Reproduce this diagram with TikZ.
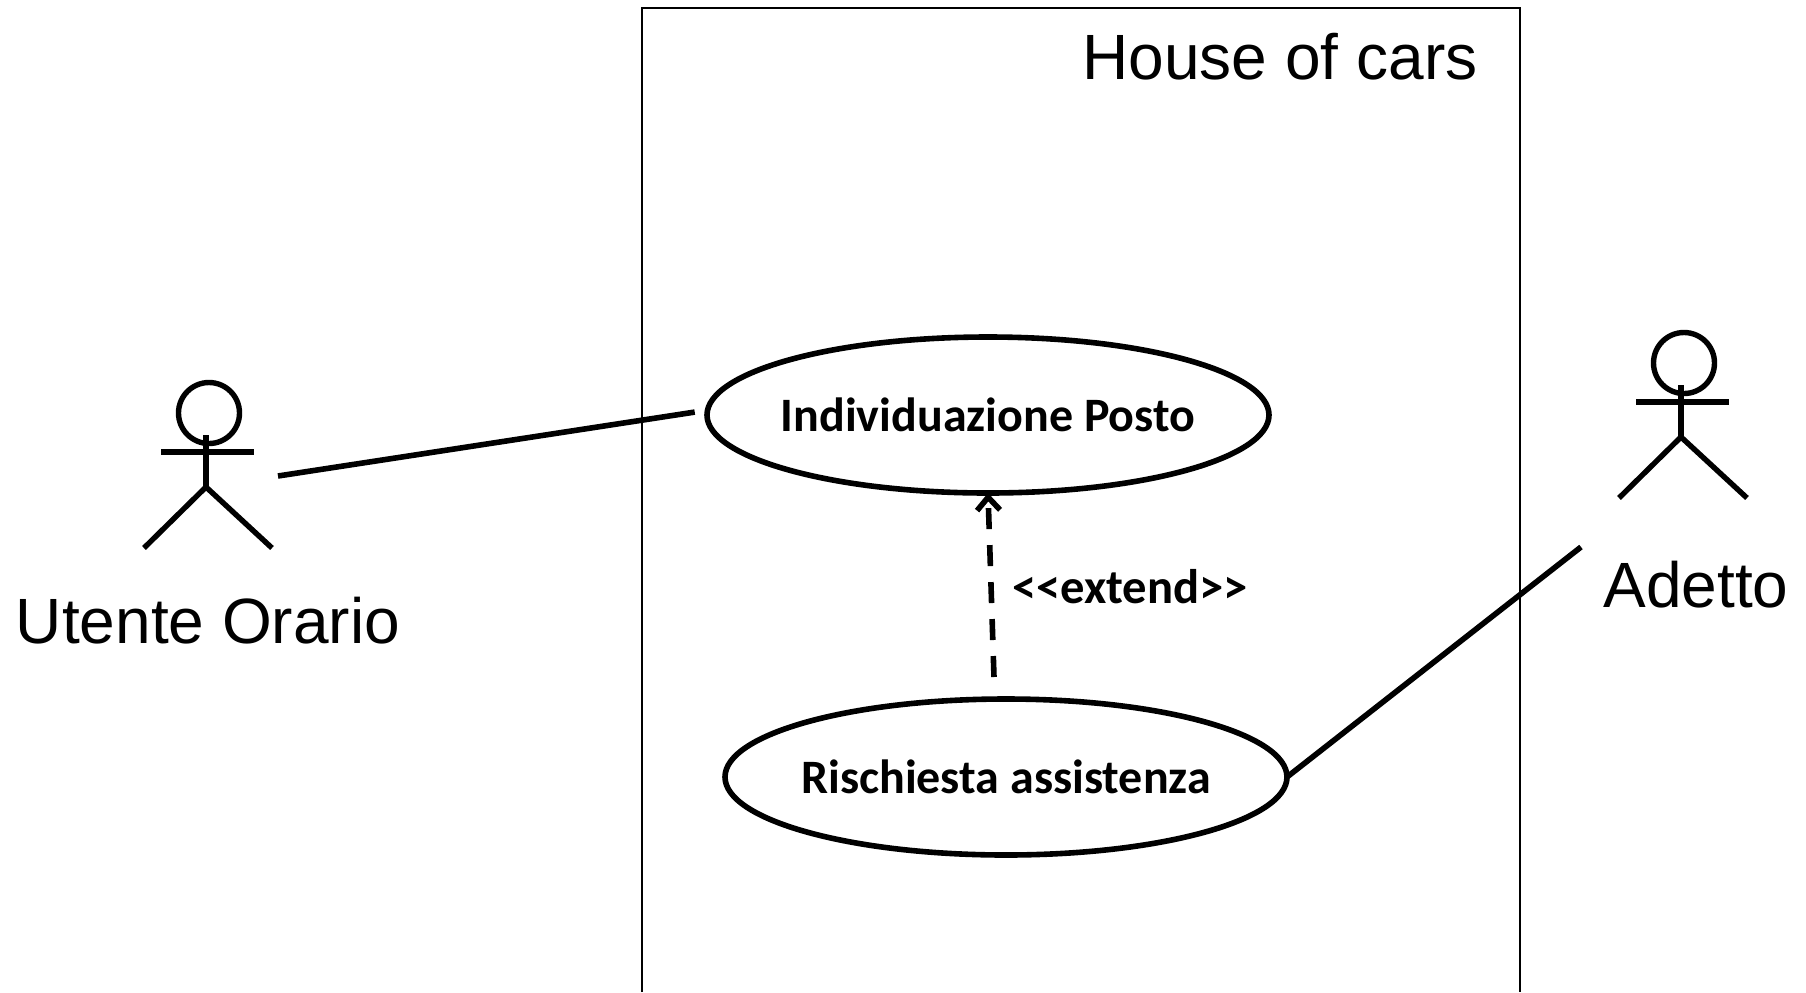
\documentclass[tikz,border=0pt]{standalone}
\usepackage{fontspec}
\setmainfont{Liberation Sans}
\newfontfamily\usecasefont{Carlito}
\usetikzlibrary{shapes.geometric,arrows.meta}

\tikzset{
  usecase/.style={draw, ellipse, line width=2.8pt, inner xsep=-10pt, inner ysep=0pt, outer sep=0pt,
    minimum width=281pt, minimum height=78pt, font=\usecasefont\bfseries\fontsize{24}{28}\selectfont},
  title/.style={anchor=base, inner sep=0pt, font=\fontsize{32}{38}\selectfont},
  link/.style={line width=2.8pt},
  actor/.pic={
    \draw[line width=2.7pt] (0,1) circle (30.5);
    \draw[line width=2.7pt] (-3,23) -- (-3,75) (-48,40) -- (45,40);
    \draw[line width=2.7pt] (-65,136) -- (-3,75) -- (63,136);
  }
}

\begin{document}
\begin{tikzpicture}[x=0.5pt, y=-0.5pt]
  \useasboundingbox (0,0) rectangle (1806,992);
  % System boundary
  \draw[line width=0.8pt] (642,992) -- (642,8) -- (1520,8) -- (1520,992);
  \node[title] (system) at (1280,79) {House of cars};

  % Actors
  \pic at (209,412) {actor};
  \pic at (1684,362) {actor};
  \node[title] (utente) at (208,643) {Utente Orario};
  \node[title] (adetto) at (1696,607) {Adetto};
  \coordinate (utenteend) at (278,476);
  \coordinate (adettoend) at (1581,547);

  % Use cases
  \node[usecase] (posto) at (988,415) {Individuazione Posto};
  \node[usecase] (assistenza) at (1006,777) {Rischiesta assistenza};
  \coordinate (extendstart) at (994,677);
  \node[anchor=base, inner sep=0pt, font=\usecasefont\bfseries\fontsize{24.3}{28}\selectfont] (extend) at (1130,603) {<{}<extend>{}>};

  \draw[link, shorten >=6.5pt] (utenteend) -- (posto.179);
  \draw[link] (adettoend) -- (assistenza.east);
  \draw[link, dash pattern=on 10.5pt off 8pt, -{Straight Barb[length=6.5pt,width=11.5pt]}] (extendstart) -- (posto.south);
\end{tikzpicture}
\end{document}
